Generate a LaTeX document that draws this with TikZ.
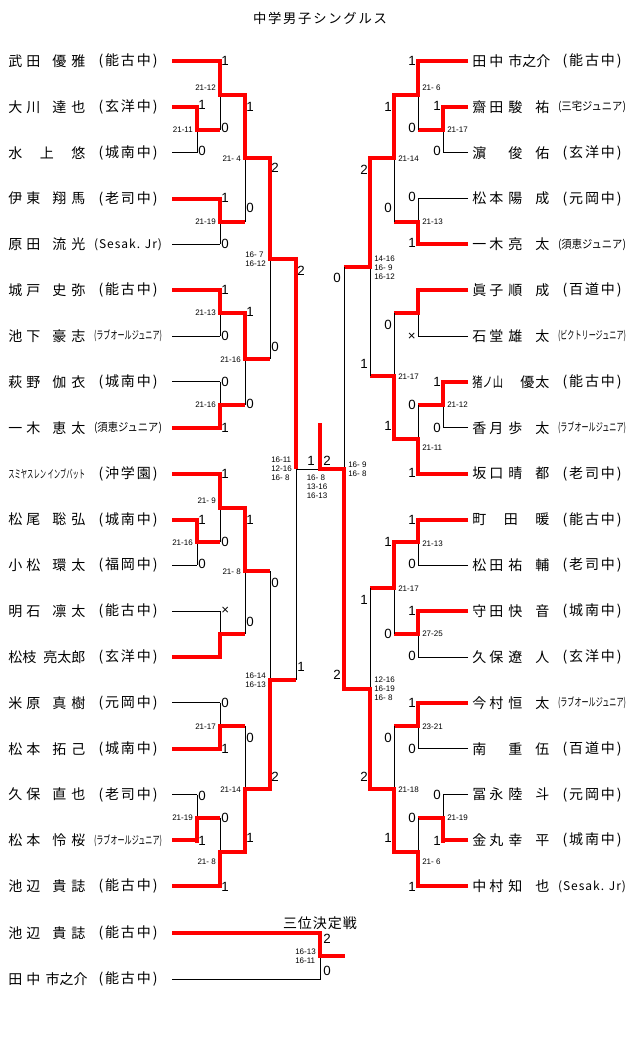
\documentclass[tikz,border=0pt]{standalone}
\usepackage{fontspec}
\usepackage{graphicx}
\newfontfamily\jp{Noto Sans CJK JP}
\newfontfamily\lat{Liberation Sans}
% spread the letters of a word over its box:
\def\spread#1{\spreadi#1\relax}
\def\spreadi#1#2{#1\ifx\relax#2\else\hfil\expandafter\spreadi\expandafter#2\fi}
% name and club boxes:
\newcommand\nmL[2]{\hbox to 24pt{\spread{#1}}\hskip 9pt\hbox to 24.75pt{\spread{#2}}}
\newcommand\nmR[2]{\hbox to 23.25pt{\spread{#1}}\hskip 3.75pt\hbox to 30.75pt{\spread{#2}}}
\newcommand\nmF[1]{\hbox to 57.75pt{\spread{#1}}}
\newcommand\schN[1]{\hbox to 44.25pt{\spread{(#1)}}}
\newcommand\schS[1]{\resizebox{51pt}{\height}{\fontsize{8.5}{9}\selectfont(#1)}}
\newcommand\schL{\hbox to 51pt{\fontsize{9}{10}\selectfont\spread{(Sesak.~Jr)}}}
\begin{document}
\begin{tikzpicture}[x=0.75pt,y=-0.75pt,
  win/.style={red,line width=3pt},
  lose/.style={black,line width=0.75pt},
  nm/.style={anchor=west,inner sep=0pt,font=\jp\fontsize{10.5}{12}\selectfont},
  sch/.style={inner sep=0pt,font=\jp\fontsize{10.5}{12}\selectfont},
  num/.style={inner sep=0pt,font=\lat\fontsize{10}{12}\selectfont},
  pts/.style={inner sep=0pt,align=left,font=\lat\fontsize{6}{6.75}\selectfont}]
  \useasboundingbox (0,0) rectangle (640,1053);
  \node[sch] (title) at (320,18) {\fontsize{10}{12}\selectfont\hbox to 100.5pt{\spread{中学男子シングルス}}};
  % left players and their first lines:
  \foreach \row/\who/\club/\mx/\st in {
    0/{\nmL{武田}{優雅}}/{\schN{能古中}}/220/win,
    1/{\nmL{大川}{達也}}/{\schN{玄洋中}}/197/win,
    2/{\nmF{水上悠}}/{\schN{城南中}}/197/lose,
    3/{\nmL{伊東}{翔馬}}/{\schN{老司中}}/220/win,
    4/{\nmL{原田}{流光}}/{\schL}/220/lose,
    5/{\nmL{城戸}{史弥}}/{\schN{能古中}}/220/win,
    6/{\nmL{池下}{豪志}}/{\schS{ラブオールジュニア}}/220/lose,
    7/{\nmL{萩野}{伽衣}}/{\schN{城南中}}/220/lose,
    8/{\nmL{一木}{恵太}}/{\schS{須恵ジュニア}}/220/win,
    9/{\resizebox{57.75pt}{\height}{\fontsize{8.5}{9}\selectfont スミヤスレン インブバット}}/{\schN{沖学園}}/220/win,
    10/{\nmL{松尾}{聡弘}}/{\schN{城南中}}/197/win,
    11/{\nmL{小松}{環太}}/{\schN{福岡中}}/197/lose,
    12/{\nmL{明石}{凛太}}/{\schN{能古中}}/220/lose,
    13/{\hbox to 20.25pt{\spread{松枝}}\hskip 6pt\hbox to 31.5pt{\spread{亮太郎}}}/{\schN{玄洋中}}/220/win,
    14/{\nmL{米原}{真樹}}/{\schN{元岡中}}/220/lose,
    15/{\nmL{松本}{拓己}}/{\schN{城南中}}/220/win,
    16/{\nmL{久保}{直也}}/{\schN{老司中}}/197/lose,
    17/{\nmL{松本}{怜桜}}/{\schS{ラブオールジュニア}}/197/win,
    18/{\nmL{池辺}{貴誌}}/{\schN{能古中}}/220/win}{
    \pgfmathsetmacro\y{61+45.85*\row}
    \node[nm] (l\row) at (8,\y) {\who};
    \node[sch] (lc\row) at (128,\y) {\club};
    \draw[\st] (172,\y) -- (\mx,\y);
  }
  % right players and their first lines:
  \foreach \row/\who/\club/\mx/\st in {
    0/{\nmR{田中}{市之介}}/{\schN{能古中}}/418/win,
    1/{\nmR{齋田}{駿祐}}/{\schS{三宅ジュニア}}/443/win,
    2/{\nmR{濵}{俊佑}}/{\schN{玄洋中}}/443/lose,
    3/{\nmR{松本}{陽成}}/{\schN{元岡中}}/418/lose,
    4/{\nmR{一木}{亮太}}/{\schS{須恵ジュニア}}/418/win,
    5/{\nmR{眞子}{順成}}/{\schN{百道中}}/418/win,
    6/{\nmR{石堂}{雄太}}/{\schS{ビクトリージュニア}}/418/lose,
    7/{\resizebox{23.25pt}{\height}{猪ノ山}\hskip 12.75pt\hbox to 21.75pt{\spread{優太}}}/{\schN{能古中}}/443/win,
    8/{\nmR{香月}{歩太}}/{\schS{ラブオールジュニア}}/443/lose,
    9/{\nmR{坂口}{晴都}}/{\schN{老司中}}/418/win,
    10/{\nmF{町田暖}}/{\schN{能古中}}/418/win,
    11/{\nmR{松田}{祐輔}}/{\schN{老司中}}/418/lose,
    12/{\nmR{守田}{快音}}/{\schN{城南中}}/418/win,
    13/{\nmR{久保}{遼人}}/{\schN{玄洋中}}/418/lose,
    14/{\nmR{今村}{恒太}}/{\schS{ラブオールジュニア}}/418/win,
    15/{\nmR{南}{重伍}}/{\schN{百道中}}/418/lose,
    16/{\nmR{冨永}{陸斗}}/{\schN{元岡中}}/443/lose,
    17/{\nmR{金丸}{幸平}}/{\schN{城南中}}/443/win,
    18/{\nmR{中村}{知也}}/{\schL}/418/win}{
    \pgfmathsetmacro\y{61+45.85*\row}
    \node[nm] (r\row) at (472,\y) {\who};
    \node[sch] (rc\row) at (592,\y) {\club};
    \draw[\st] (468,\y) -- (\mx,\y);
  }
  % left matches: x, next x, top, bottom, winner, numbers, score
  \foreach \x/\xx/\a/\b/\w/\na/\ya/\nb/\yb/\res/\ys [count=\m] in {
    197/220/106.9/152.7/1/1/105/0/151/21-11/130,
    220/245/61/129.8/1/1/61/0/128/21-12/88,
    220/245/198.6/244.4/1/1/198/0/244/21-19/222,
    245/270/95.4/221.5/1/1/107/0/208/21- 4/159,
    220/245/290.3/336.1/1/1/290/0/336/21-13/313,
    220/245/382/427.8/2/0/382/1/428/21-16/405,
    245/270/313.2/404.9/1/1/312/0/404/21-16/360,
    270/296/158.45/359.05/1/2/168/0/347/{16- 7\\16-12}/259,
    197/220/519.5/565.4/1/1/520/0/564/21-16/543,
    220/245/473.7/542.45/1/1/474/0/542/21- 9/501,
    220/245/611.2/657.1/2/×/611/{}/657/{}/634,
    245/270/508.1/634.15/1/1/520/0/622/21- 8/572,
    220/245/702.9/748.8/2/0/703/1/749/21-17/727,
    197/220/794.6/840.5/2/0/796/1/841/21-19/818,
    220/245/817.55/886.3/2/0/818/1/887/21- 8/862,
    245/270/725.85/851.9/2/0/738/1/838/21-14/790,
    270/296/571.1/788.9/2/0/583/2/777/{16-14\\16-13}/680}{
    \pgfmathsetmacro\yo{(\a+\b)/2}
    \pgfmathsetmacro\yw{\w==1 ? \a-2 : \b+2}
    \draw[lose] (\x,\a) -- (\x,\b);
    \draw[win] (\x,\yw) -- (\x,\yo) -- (\xx,\yo);
    \node[num,anchor=west] (lna\m) at (\x+1,\ya) {\na};
    \node[num,anchor=west] (lnb\m) at (\x+1,\yb) {\nb};
    \node[pts,anchor=east] (lsc\m) at (\x-4,\ys) {\res};
  }
  % right matches:
  \foreach \x/\xx/\a/\b/\w/\na/\ya/\nb/\yb/\res/\ys [count=\m] in {
    443/418/106.9/152.7/1/1/106/0/151/21-17/130,
    418/394/61/129.8/1/1/61/0/128/21- 6/88,
    418/394/198.6/244.4/2/0/197/1/243/21-13/222,
    394/370/95.4/221.5/1/1/107/0/208/21-14/159,
    418/394/290.3/336.1/1/{}/290/×/337/{}/313,
    443/418/382/427.8/1/1/382/0/428/21-12/405,
    418/394/404.9/473.7/2/0/405/1/473/21-11/448,
    394/370/313.2/439.3/2/0/325/1/426/21-17/377,
    370/344/158.45/376.25/1/2/170/1/364/{14-16\\16- 9\\16-12}/268,
    418/394/519.5/565.4/1/1/520/0/564/21-13/544,
    418/394/611.2/657.1/1/1/611/0/656/27-25/634,
    394/370/542.45/634.15/1/1/542/0/634/21-17/589,
    418/394/702.9/748.8/1/1/703/0/749/23-21/727,
    443/418/794.6/840.5/2/0/795/1/841/21-19/818,
    418/394/817.55/886.3/2/0/818/1/887/21- 6/862,
    394/370/725.85/851.9/2/0/738/1/838/21-18/790,
    370/344/588.3/788.9/2/1/600/2/777/{12-16\\16-19\\16- 8}/689}{
    \pgfmathsetmacro\yo{(\a+\b)/2}
    \pgfmathsetmacro\yw{\w==1 ? \a-2 : \b+2}
    \draw[lose] (\x,\a) -- (\x,\b);
    \draw[win] (\x,\yw) -- (\x,\yo) -- (\xx,\yo);
    \node[num,anchor=east] (rna\m) at (\x-2,\ya) {\na};
    \node[num,anchor=east] (rnb\m) at (\x-2,\yb) {\nb};
    \node[pts,anchor=west] (rsc\m) at (\x+4,\ys) {\res};
  }
  % left semifinal:
  \draw[lose] (296,258.75) -- (296,680);
  \draw[win] (296,256.75) -- (296,469);
  \draw[lose] (296,469) -- (320,469);
  \node[num,anchor=west] (lsa) at (297,271) {2};
  \node[num,anchor=west] (lsb) at (297,667) {1};
  \node[pts,anchor=east] (lss) at (292,469) {16-11\\12-16\\16- 8};
  % right semifinal and final:
  \draw[lose] (344,267.35) -- (344,688.6);
  \draw[win] (344,690.6) -- (344,469) -- (320,469) -- (320,423);
  \node[num,anchor=east] (rsa) at (341,278) {0};
  \node[num,anchor=east] (rsb) at (341,675) {2};
  \node[pts,anchor=west] (rss) at (348,469) {16- 9\\16- 8};
  \node[num] (fa) at (311,461) {1};
  \node[num] (fb) at (327,461) {2};
  \node[pts,anchor=north] (fs) at (317,475) {16- 8\\13-16\\16-13};
  % third place match:
  \node[sch] (third) at (320,923) {\hbox to 55.5pt{\spread{三位決定戦}}};
  \node[nm] (p1) at (8,933) {\nmL{池辺}{貴誌}};
  \node[sch] (pc1) at (128,933) {\schN{能古中}};
  \node[nm] (p2) at (8,979) {\hbox to 24pt{\spread{田中}}\hskip 4pt\hbox to 31.5pt{\spread{市之介}}};
  \node[sch] (pc2) at (128,979) {\schN{能古中}};
  \draw[lose] (172,979) -- (320,979) -- (320,933);
  \draw[win] (172,933) -- (320,933) -- (320,956) -- (345,956);
  \node[num,anchor=west] (pa) at (323,939) {2};
  \node[num,anchor=west] (pb) at (323,971) {0};
  \node[pts,anchor=east] (ps) at (316,956) {16-13\\16-11};
\end{tikzpicture}
\end{document}
